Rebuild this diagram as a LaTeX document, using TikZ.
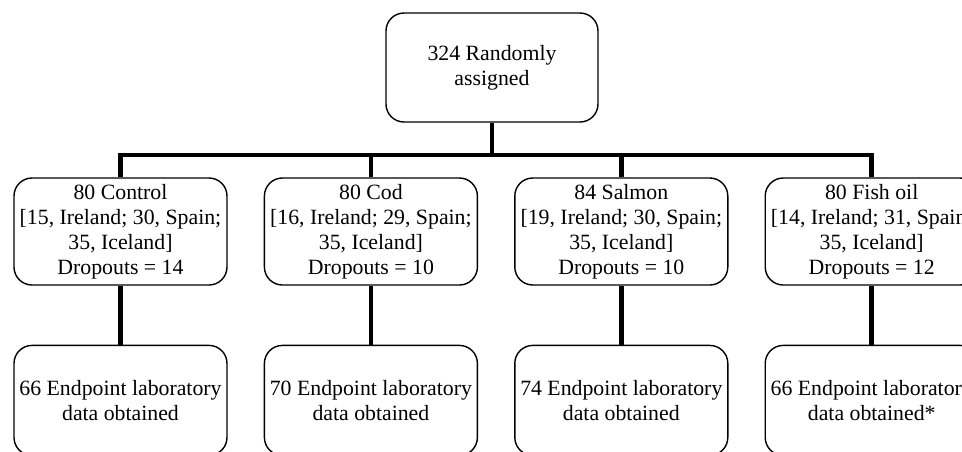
\documentclass[tikz,border=0pt]{standalone}
\usepackage{fontspec}
\setmainfont{Liberation Serif}
\usetikzlibrary{positioning}

\begin{document}
\begin{tikzpicture}[%
        every node/.style={rectangle, rounded corners=0.36cm, draw, line width=0.8pt,
          minimum width=4.26cm, minimum height=2.14cm, inner sep=1pt, align=center,
          font=\fontsize{12.4}{14.3}\selectfont},
        endbox/.style={minimum height=2.2cm},
        link/.style={line width=2.6pt},
        node distance=1.18cm and 0.72cm
      ]
      \useasboundingbox (0,0) rectangle (19.24,-9.02);
      \node [] (top) [minimum width=4.24cm, minimum height=2.18cm] at (9.84,-1.35) {324 Randomly\\assigned};
      \node [] (ctl) at (2.41,-4.63) {80 Control\\{[15, Ireland; 30, Spain;}\\35, Iceland]\\Dropouts = 14};
      \node [] (cod) [right=of ctl] {80 Cod\\{[16, Ireland; 29, Spain;}\\35, Iceland]\\Dropouts = 10};
      \node [] (sal) [right=of cod] {84 Salmon\\{[19, Ireland; 30, Spain;}\\35, Iceland]\\Dropouts = 10};
      \node [] (oil) [right=of sal] {80 Fish oil\\{[14, Ireland; 31, Spain;}\\35, Iceland]\\Dropouts = 12};
      \node [] (ctl-end) [endbox, below=of ctl] {66 Endpoint laboratory\\data obtained};
      \node [] (cod-end) [endbox, below=of cod] {70 Endpoint laboratory\\data obtained};
      \node [] (sal-end) [endbox, below=of sal] {74 Endpoint laboratory\\data obtained};
      \node [] (oil-end) [endbox, below=of oil] {66 Endpoint laboratory\\data obtained*};
      \coordinate (bar) at (9.84,-3.10);
      \draw [link] (top.south) -- (bar);
      \foreach \g in {ctl,cod,sal,oil} {
        \draw [link] (bar) -| (\g.north);
        \draw [link] (\g.south) -- (\g-end.north);
      }
    \end{tikzpicture}
\end{document}
